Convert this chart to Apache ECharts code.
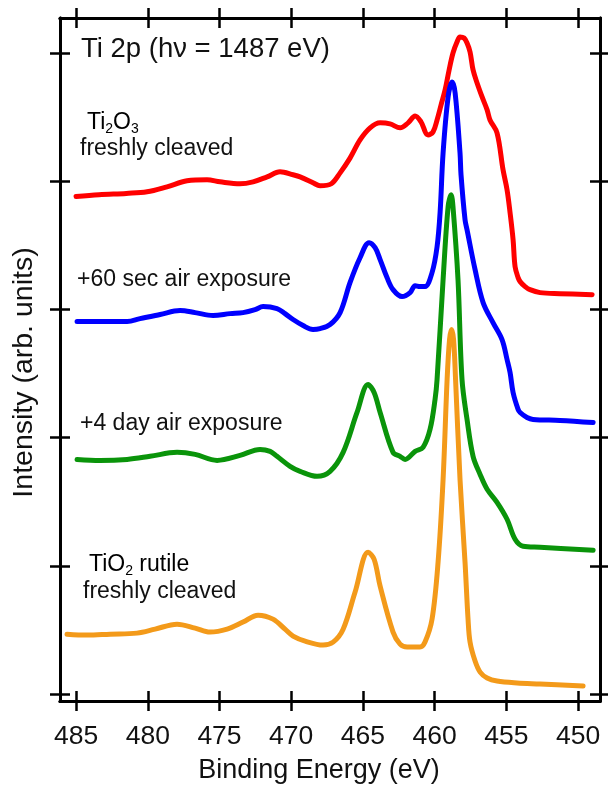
<!DOCTYPE html>
<html>
<head>
<meta charset="utf-8">
<script src="https://cdn.jsdelivr.net/npm/echarts@6/dist/echarts.min.js"></script>
<style>
  html, body { margin: 0; padding: 0; background: #fff; }
  #chart { width: 608px; height: 789px; }
</style>
</head>
<body>
<div id="chart"></div>
<script>
// binding energy (eV) vs intensity (arb. units), curves already offset vertically
var ti2o3 = [[485.0,388],[483.4,389.5],[481.5,390.5],[480.05,391.7],[478.66,395.6],[477.26,400.3],[475.87,401.1],[474.96,399.5],[473.57,398],[472.66,399.5],[471.68,403.4],[470.78,407.3],[469.87,405],[469.38,403.4],[468.48,398.8],[467.99,396.4],[467.2,398],[466.59,406.5],[465.9,418],[465.2,432.2],[464.5,441.6],[463.8,445.5],[463.11,444.7],[462.41,441.6],[461.85,445.5],[461.36,450.9],[460.95,446.3],[460.46,436.1],[460.11,438.5],[459.83,447.8],[459.55,459.5],[459.27,471.2],[458.99,486.8],[458.72,500],[458.44,508.6],[458.23,512.5],[457.95,511.7],[457.74,507.8],[457.53,500.8],[457.32,486.8],[457.04,476.6],[456.69,465.7],[456.34,455.6],[456.14,447.8],[455.65,437.7],[455.23,408.9],[454.95,393.3],[454.74,375.4],[454.53,354.4],[454.39,333.3],[454.18,324.8],[454.04,321.7],[453.69,317.8],[453.35,315.4],[452.65,313.1],[451.26,312.3],[449.02,311.5]];

var air60s = [[484.93,290.5],[483.33,290.5],[481.44,290.5],[480.54,292.8],[479.14,296],[477.75,299.1],[476.7,297.5],[475.45,295.2],[474.26,296.7],[473.36,297.5],[472.52,299.8],[471.96,302.2],[470.99,300.6],[470.43,296.7],[469.87,292.1],[469.17,287.4],[468.48,284.3],[467.99,285],[467.29,288.2],[466.59,297.5],[465.9,320.9],[465.2,340.3],[464.57,352],[464.15,348.1],[463.8,338.8],[463.32,324.8],[462.9,315.4],[462.27,310],[461.71,313.1],[461.36,318.5],[461.02,317.8],[460.67,317.8],[460.18,328.7],[459.83,348.9],[459.62,375.4],[459.41,422.1],[459.06,465.7],[458.78,477.4],[458.57,468.8],[458.23,422.1],[458.16,405],[457.88,369.9],[457.74,362.1],[457.18,331],[456.62,305.3],[455.93,289.7],[455.3,276.5],[454.95,260.9],[454.74,250.8],[454.53,235.2],[454.18,222],[454.04,219.6],[453.56,215.7],[453.14,214.2],[451.26,213.4],[448.95,211.8]];

var air4d = [[484.93,183],[483.33,182.2],[481.44,183],[479.84,185.4],[477.96,188.5],[476.7,186.9],[475.17,182.2],[473.57,186.1],[472.17,190.8],[471.47,189.3],[470.99,185.4],[470.08,177.6],[469.38,173.7],[468.2,169.8],[467.29,173.7],[466.38,188.5],[465.41,219.6],[464.64,241.4],[464.22,235.2],[463.8,219.6],[462.9,188.5],[462.41,185.4],[462.06,183],[461.36,189.3],[460.81,192.4],[460.32,206.4],[459.97,229.8],[459.83,245.3],[459.41,323.2],[459.06,380.1],[458.85,389.4],[458.72,380.1],[458.37,323.2],[458.09,245.3],[457.74,214.2],[457.32,185.4],[456.83,171.3],[456.34,159.7],[455.65,149.5],[454.95,136.3],[454.39,120.7],[453.83,115.3],[452.65,114.5],[448.95,112.1]];

var tio2 = [[485.63,46.7],[484.23,46],[482.63,46.7],[480.75,47.5],[479.49,50.6],[477.96,54.5],[476.7,51.4],[475.66,48.3],[474.47,50.6],[473.36,56.1],[472.31,61.5],[471.27,58.4],[470.43,50.6],[469.87,45.2],[469.03,41.3],[467.78,38.2],[467.08,40.5],[466.38,50.6],[465.55,79.4],[464.64,110.6],[464.22,105.1],[463.8,84.1],[462.9,48.3],[462.41,38.9],[461.92,36.6],[461.02,36.6],[460.67,40.5],[460.18,58.4],[459.76,102.8],[459.41,167.4],[459.13,245.3],[458.96,276.5],[458.82,284.3],[458.68,276.5],[458.54,245.3],[458.23,167.4],[457.88,102.8],[457.67,58.4],[457.53,40.5],[457.18,25.7],[456.83,17.1],[456.34,12.5],[455.65,10.1],[454.25,8.6],[452.65,7.8],[449.65,6.2]];

var xTicks = [450, 455, 460, 465, 470, 475, 480, 485];
var yTicks = [0, 100, 200, 300, 400, 500];

var FONT = "'Liberation Sans', Arial, sans-serif";
var xMin = 448.47, xMax = 486.12;
var yMin = -5.45, yMax = 527.3;

var myChart = echarts.init(document.getElementById("chart"), null, {renderer: 'canvas'});

function xAx(pos, inside, extra) {
    var a = {
        type: 'value', position: pos, inverse: true, min: xMin, max: xMax, offset: 0,
        axisLine: {show: true, onZero: false, lineStyle: {color: '#000', width: 3}},
        axisTick: {show: true, inside: inside, length: 10, customValues: xTicks, lineStyle: {color: '#000', width: 2.5}},
        axisLabel: {show: false},
        splitLine: {show: false}
    };
    return Object.assign(a, extra || {});
}
function yAx(pos, inside, extra) {
    var a = {
        type: 'value', position: pos, min: yMin, max: yMax, offset: 0,
        axisLine: {show: true, onZero: false, lineStyle: {color: '#000', width: 3}},
        axisTick: {show: true, inside: inside, length: 10, customValues: yTicks, lineStyle: {color: '#000', width: 2.5}},
        axisLabel: {show: false},
        splitLine: {show: false}
    };
    return Object.assign(a, extra || {});
}
function line(name, data, color) {
    return {
        name: name, type: 'line', data: data, xAxisIndex: 0, yAxisIndex: 0,
        showSymbol: false, smooth: 0.35,
        lineStyle: {color: color, width: 5, cap: 'round', join: 'round'},
        z: 3
    };
}

var lbl = {fontFamily: FONT, fontSize: 23, fill: '#111'};
var sub = {
    a: {fontFamily: FONT, fontSize: 23, lineHeight: 26, color: '#111'},
    s: {fontFamily: FONT, fontSize: 14, lineHeight: 12, verticalAlign: 'bottom', color: '#111'}
};

option = {
    animation: false,
    backgroundColor: '#fff',
    grid: {left: 60, right: 8, top: 18, bottom: 87, containLabel: false},
    xAxis: [
        xAx('bottom', false, {
            axisLabel: {show: true, customValues: xTicks, fontFamily: FONT, fontSize: 26.5, color: '#111', margin: 22},
            name: 'Binding Energy (eV)', nameLocation: 'middle', nameGap: 56,
            nameTextStyle: {fontFamily: FONT, fontSize: 27, color: '#111', padding: [0, 22, 0, 0]}
        }),
        xAx('bottom', true),
        xAx('top', false),
        xAx('top', true)
    ],
    yAxis: [
        yAx('left', false, {
            name: 'Intensity (arb. units)', nameLocation: 'middle', nameGap: 21,
            nameTextStyle: {fontFamily: FONT, fontSize: 28.5, color: '#111', padding: [0, 26, 0, 0]}
        }),
        yAx('left', true),
        yAx('right', false),
        yAx('right', true)
    ],
    graphic: [
        {type: 'text', x: 81, y: 49, style: {text: 'Ti 2p (h\u03bd = 1487 eV)', fontFamily: FONT, fontSize: 27.5, fill: '#111', align: 'left', verticalAlign: 'middle'}},
        {type: 'text', x: 87, y: 123, style: {text: '{a|Ti}{s|2}{a|O}{s|3}', align: 'left', verticalAlign: 'middle', rich: sub}},
        {type: 'text', x: 80, y: 149, style: Object.assign({text: 'freshly cleaved', align: 'left', verticalAlign: 'middle'}, lbl)},
        {type: 'text', x: 77, y: 280, style: Object.assign({text: '+60 sec air exposure', align: 'left', verticalAlign: 'middle'}, lbl)},
        {type: 'text', x: 80, y: 424, style: Object.assign({text: '+4 day air exposure', align: 'left', verticalAlign: 'middle'}, lbl)},
        {type: 'text', x: 89, y: 565, style: {text: '{a|TiO}{s|2}{a| rutile}', align: 'left', verticalAlign: 'middle', rich: sub}},
        {type: 'text', x: 83, y: 592, style: Object.assign({text: 'freshly cleaved', align: 'left', verticalAlign: 'middle'}, lbl)}
    ],
    series: [
        line('Ti2O3 freshly cleaved', ti2o3, '#ff0000'),
        line('+60 sec air exposure', air60s, '#0000ff'),
        line('+4 day air exposure', air4d, '#0a940a'),
        line('TiO2 rutile freshly cleaved', tio2, '#f39a1a')
    ]
};

myChart.setOption(option);
</script>
</body>
</html>
